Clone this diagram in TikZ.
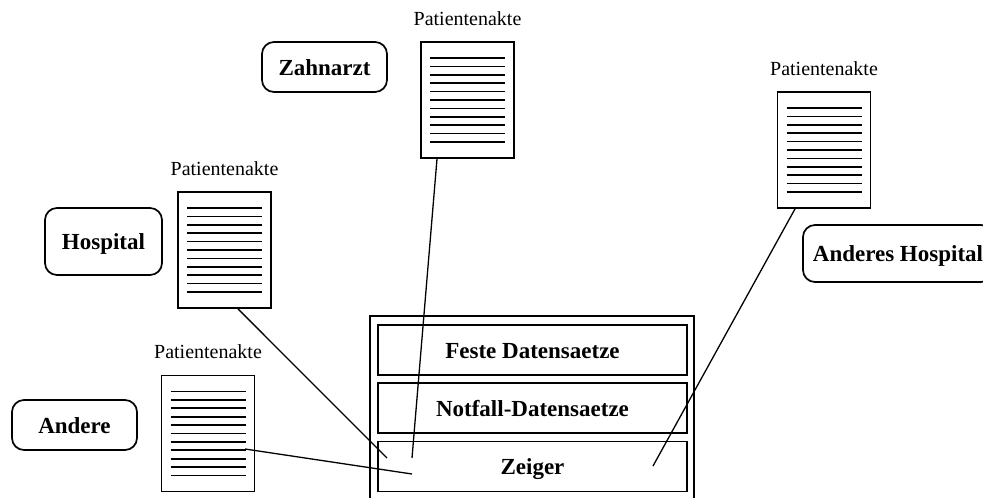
\documentclass[tikz,border=0pt]{standalone}
\usepackage{fontspec}
\setmainfont{Liberation Serif}
\usetikzlibrary{calc}
\begin{document}
\begin{tikzpicture}[x=1pt,y=-1pt,
  party/.style={draw, line width=1.7pt, rounded corners=12pt,
    font=\fontsize{23}{27}\selectfont\bfseries,
    text height=16pt, text depth=0pt, inner sep=0pt},
  record/.style={draw, line width=1.7pt,
    font=\fontsize{23}{27}\selectfont\bfseries,
    text height=16pt, text depth=0pt, inner sep=0pt,
    minimum width=309pt, minimum height=50pt},
  akte/.style={draw, line width=1.8pt, minimum width=93pt, minimum height=116pt,
    inner sep=0pt,
    path picture={\foreach \i in {0,...,10}{
      \draw[line width=1.7pt]
        ([xshift=9pt,yshift={-16pt-\i*8.4pt}]path picture bounding box.north west)
        -- ++(75pt,0);}}},
  aktelabel/.style={anchor=base, font=\fontsize{20}{24}\selectfont, inner sep=0pt},
  link/.style={line width=1.3pt}
]
\useasboundingbox (0,0) rectangle (983,498);
\clip (0,0) rectangle (983,498);

% institutions
\node[party, minimum width=125pt, minimum height=50pt] (zahnarzt) at (324.5,67) {Zahnarzt};
\node[party, minimum width=117pt, minimum height=67pt] (hospital) at (103.5,241.5) {Hospital};
\node[party, minimum width=125pt, minimum height=50pt] (andere) at (74.5,425) {Andere};
\node[party, minimum width=190pt, minimum height=57pt] (anderes) at (898,253.5) {Anderes Hospital};

% patient records
\node[akte] (zakte) at (467.5,100) {};
\node[akte] (hakte) at (224.5,250) {};
\node[akte] (oakte) at (208,433.5) {};
\node[akte] (aakte) at (824,150) {};

\node[aktelabel] (zlabel) at ($(zakte.north)+(0,-16)$) {Patientenakte};
\node[aktelabel] (hlabel) at ($(hakte.north)+(0,-16)$) {Patientenakte};
\node[aktelabel] (olabel) at ($(oakte.north)+(0,-16)$) {Patientenakte};
\node[aktelabel] (alabel) at ($(aakte.north)+(0,-16)$) {Patientenakte};

% central store
\node[draw, line width=1.7pt, minimum width=324pt, minimum height=200pt, inner sep=0pt]
  (speicher) at (532,416) {};
\node[record] (feste) at (532.5,350) {Feste Datensaetze};
\node[record] (notfall) at (532.5,408) {Notfall-Datensaetze};
\node[record] (zeiger) at (532.5,466.5) {Zeiger};

% pointer ends inside the Zeiger field
\coordinate (zend) at (412,458);
\coordinate (hend) at (387,458);
\coordinate (oend) at (412,474);
\coordinate (aend) at (653,466);

\draw[link] ($(zakte.south)+(-30.5,0)$) -- (zend);
\draw[link] ($(hakte.south)+(13.5,0)$) -- (hend);
\draw[link] ($(oakte.center)+(37,15.5)$) -- (oend);
\draw[link] ($(aakte.south)+(-29,0)$) -- (aend);
\end{tikzpicture}
\end{document}
